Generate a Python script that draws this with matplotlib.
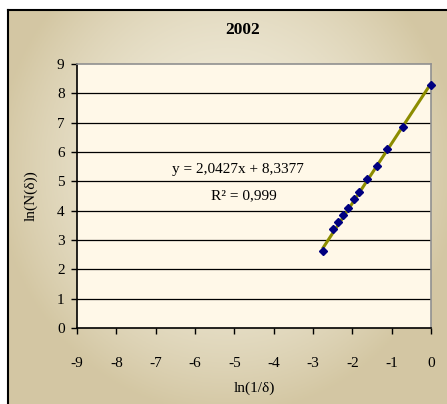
import numpy as np
import matplotlib.pyplot as plt

# ln(1/delta) and ln(N(delta)) for 2002
ln_inv_delta = [0.0, -0.70, -1.13, -1.38, -1.62, -1.82, -1.96, -2.10, -2.23, -2.36, -2.48, -2.74]
ln_n_delta = [8.30, 6.86, 6.09, 5.52, 5.07, 4.65, 4.39, 4.08, 3.85, 3.62, 3.36, 2.64]
slope, intercept = 2.0427, 8.3377
r2 = 0.999
title = "2002"
x_ticks = list(range(-9, 1))
y_ticks = list(range(0, 10))

plt.rcParams['font.family'] = ['Liberation Serif', 'DejaVu Serif']
plt.rcParams['axes.unicode_minus'] = False

W, H = 447, 404
fig = plt.figure(figsize=(W / 100, H / 100), dpi=100)
fig.patch.set_facecolor('white')

# parchment backdrop with a darker rim
bg = fig.add_axes([8 / W, 0, 1 - 8 / W, 1 - 10 / H], zorder=0)
yy, xx = np.mgrid[-1:1:200j, -1:1:220j]
r = np.clip(np.sqrt((xx * 0.95) ** 2 + ((yy + 0.2) * 0.8) ** 2), 0, 1)
light = np.array([0.94, 0.92, 0.85])
dark = np.array([0.83, 0.78, 0.64])
img = light[None, None, :] * (1 - r[..., None] ** 2) + dark[None, None, :] * r[..., None] ** 2
bg.imshow(img, aspect='auto', extent=[0, 1, 0, 1])
bg.set_xlim(0, 1)
bg.set_ylim(0, 1)
bg.set_xticks([])
bg.set_yticks([])
for side in ['right', 'bottom']:
    bg.spines[side].set_visible(False)
for side in ['left', 'top']:
    bg.spines[side].set_color('black')
    bg.spines[side].set_linewidth(1.5)

ax = fig.add_axes([77 / W, 1 - 328 / H, 354 / W, 264 / H], zorder=1)
ax.set_facecolor('#fff8e8')
ax.set_xlim(-9, 0)
ax.set_ylim(0, 9)
ax.set_xticks(x_ticks)
ax.set_yticks(y_ticks)
ax.tick_params(direction='out', length=4, width=1, labelsize=11, colors='black', pad=5)
ax.tick_params(axis='x', pad=17)
for yv in y_ticks[1:-1]:
    ax.axhline(yv, color='black', lw=0.9, zorder=1)
ax.spines['top'].set_color('#909090')
ax.spines['right'].set_color('#909090')
for side in ['top', 'right', 'left', 'bottom']:
    ax.spines[side].set_linewidth(1.2)

# trend line over the data range
xs = np.array([min(ln_inv_delta), max(ln_inv_delta)])
ax.plot(xs, slope * xs + intercept, color='#8c8c00', lw=2.2, zorder=3)
ax.plot(ln_inv_delta, ln_n_delta, linestyle='none', marker='D', ms=4.5,
        color='#000080', zorder=4, clip_on=False)

eq = f"y = {slope:.4f}x + {intercept:.4f}".replace('.', ',')
ax.text(-4.9, 5.4, eq, ha='center', va='center', fontsize=11)
ax.text(-4.75, 4.5, f"R² = {r2:.3f}".replace('.', ','), ha='center', va='center', fontsize=11)

ax.set_xlabel("ln(1/δ)", fontsize=11, labelpad=8)
ax.set_ylabel("ln(N(δ))", fontsize=11, labelpad=14)
fig.text(243 / W, 1 - 30 / H, title, ha='center', va='center', fontsize=12.5, fontweight='bold')

fig.savefig('out.png', dpi=100)
